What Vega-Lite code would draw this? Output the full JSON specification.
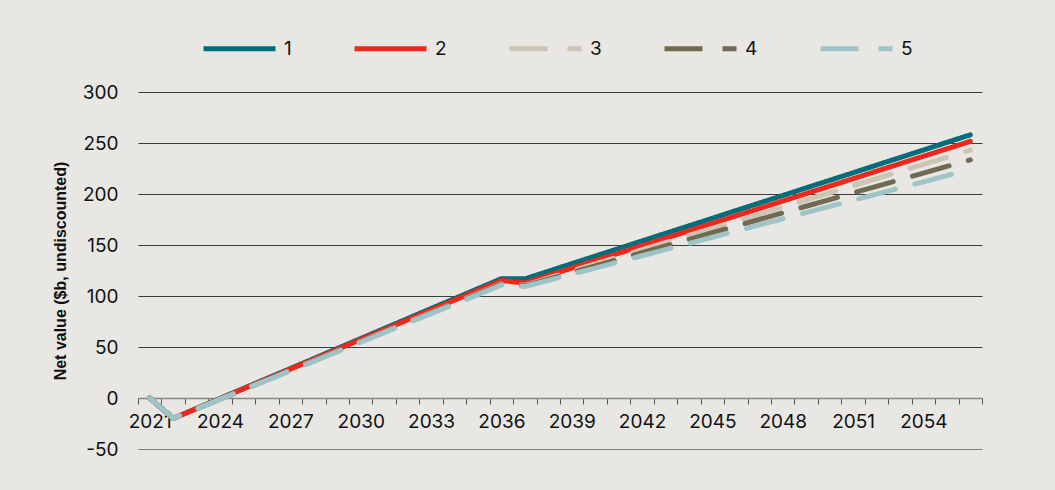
{
  "$schema": "https://vega.github.io/schema/vega-lite/v6.json",
  "autosize": {"type": "none"},
  "width": 844,
  "height": 357,
  "padding": {"left": 138, "top": 92, "right": 73, "bottom": 41},
  "background": "#e8e7e3",
  "config": {
    "view": {"stroke": null},
    "font": "Inter",
    "axis": {"labelFont": "Inter", "labelColor": "#111111", "labelFontSize": 19, "labelFontWeight": "normal"},
    "legend": {"labelFont": "Inter", "labelFontSize": 19, "labelColor": "#111111"}
  },
  "data": {"values": [
    {"series":"1","year":2021,"value":0},{"series":"1","year":2022,"value":-20},{"series":"1","year":2023,"value":-10.2},{"series":"1","year":2024,"value":-0.4},{"series":"1","year":2025,"value":9.4},{"series":"1","year":2026,"value":19.2},{"series":"1","year":2027,"value":28.9},{"series":"1","year":2028,"value":38.7},{"series":"1","year":2029,"value":48.5},{"series":"1","year":2030,"value":58.3},{"series":"1","year":2031,"value":68.1},{"series":"1","year":2032,"value":77.9},{"series":"1","year":2033,"value":87.7},{"series":"1","year":2034,"value":97.4},{"series":"1","year":2035,"value":107.2},{"series":"1","year":2036,"value":117.0},{"series":"1","year":2037,"value":116.8},{"series":"1","year":2038,"value":124.2},{"series":"1","year":2039,"value":131.7},{"series":"1","year":2040,"value":139.1},{"series":"1","year":2041,"value":146.5},{"series":"1","year":2042,"value":154.0},{"series":"1","year":2043,"value":161.4},{"series":"1","year":2044,"value":168.8},{"series":"1","year":2045,"value":176.2},{"series":"1","year":2046,"value":183.7},{"series":"1","year":2047,"value":191.1},{"series":"1","year":2048,"value":198.5},{"series":"1","year":2049,"value":206.0},{"series":"1","year":2050,"value":213.4},{"series":"1","year":2051,"value":220.8},{"series":"1","year":2052,"value":228.3},{"series":"1","year":2053,"value":235.7},{"series":"1","year":2054,"value":243.1},{"series":"1","year":2055,"value":250.6},{"series":"1","year":2056,"value":258.0},
    {"series":"2","year":2021,"value":0},{"series":"2","year":2022,"value":-20},{"series":"2","year":2023,"value":-10.3},{"series":"2","year":2024,"value":-0.7},{"series":"2","year":2025,"value":9.0},{"series":"2","year":2026,"value":18.6},{"series":"2","year":2027,"value":28.3},{"series":"2","year":2028,"value":38.0},{"series":"2","year":2029,"value":47.6},{"series":"2","year":2030,"value":57.3},{"series":"2","year":2031,"value":66.9},{"series":"2","year":2032,"value":76.6},{"series":"2","year":2033,"value":86.3},{"series":"2","year":2034,"value":95.9},{"series":"2","year":2035,"value":105.6},{"series":"2","year":2036,"value":115.2},{"series":"2","year":2037,"value":112.7},{"series":"2","year":2038,"value":120.0},{"series":"2","year":2039,"value":127.3},{"series":"2","year":2040,"value":134.6},{"series":"2","year":2041,"value":141.9},{"series":"2","year":2042,"value":149.3},{"series":"2","year":2043,"value":156.6},{"series":"2","year":2044,"value":163.9},{"series":"2","year":2045,"value":171.2},{"series":"2","year":2046,"value":178.5},{"series":"2","year":2047,"value":185.8},{"series":"2","year":2048,"value":193.1},{"series":"2","year":2049,"value":200.4},{"series":"2","year":2050,"value":207.7},{"series":"2","year":2051,"value":215.0},{"series":"2","year":2052,"value":222.4},{"series":"2","year":2053,"value":229.7},{"series":"2","year":2054,"value":237.0},{"series":"2","year":2055,"value":244.3},{"series":"2","year":2056,"value":251.6},
    {"series":"3","year":2021,"value":0},{"series":"3","year":2022,"value":-20},{"series":"3","year":2023,"value":-10.6},{"series":"3","year":2024,"value":-1.1},{"series":"3","year":2025,"value":8.3},{"series":"3","year":2026,"value":17.7},{"series":"3","year":2027,"value":27.2},{"series":"3","year":2028,"value":36.6},{"series":"3","year":2029,"value":46.0},{"series":"3","year":2030,"value":55.4},{"series":"3","year":2031,"value":64.9},{"series":"3","year":2032,"value":74.3},{"series":"3","year":2033,"value":83.7},{"series":"3","year":2034,"value":93.1},{"series":"3","year":2035,"value":102.6},{"series":"3","year":2036,"value":112.0},{"series":"3","year":2037,"value":110.5},{"series":"3","year":2038,"value":117.5},{"series":"3","year":2039,"value":124.4},{"series":"3","year":2040,"value":131.4},{"series":"3","year":2041,"value":138.4},{"series":"3","year":2042,"value":145.4},{"series":"3","year":2043,"value":152.3},{"series":"3","year":2044,"value":159.3},{"series":"3","year":2045,"value":166.3},{"series":"3","year":2046,"value":173.2},{"series":"3","year":2047,"value":180.2},{"series":"3","year":2048,"value":187.2},{"series":"3","year":2049,"value":194.1},{"series":"3","year":2050,"value":201.1},{"series":"3","year":2051,"value":208.1},{"series":"3","year":2052,"value":215.1},{"series":"3","year":2053,"value":222.0},{"series":"3","year":2054,"value":229.0},{"series":"3","year":2055,"value":236.0},{"series":"3","year":2056,"value":243.0},
    {"series":"4","year":2021,"value":0},{"series":"4","year":2022,"value":-20},{"series":"4","year":2023,"value":-10.6},{"series":"4","year":2024,"value":-1.2},{"series":"4","year":2025,"value":8.2},{"series":"4","year":2026,"value":17.6},{"series":"4","year":2027,"value":27.0},{"series":"4","year":2028,"value":36.4},{"series":"4","year":2029,"value":45.8},{"series":"4","year":2030,"value":55.2},{"series":"4","year":2031,"value":64.5},{"series":"4","year":2032,"value":73.9},{"series":"4","year":2033,"value":83.3},{"series":"4","year":2034,"value":92.7},{"series":"4","year":2035,"value":102.1},{"series":"4","year":2036,"value":111.5},{"series":"4","year":2037,"value":110.0},{"series":"4","year":2038,"value":116.5},{"series":"4","year":2039,"value":123.0},{"series":"4","year":2040,"value":129.5},{"series":"4","year":2041,"value":136.0},{"series":"4","year":2042,"value":142.5},{"series":"4","year":2043,"value":149.0},{"series":"4","year":2044,"value":155.5},{"series":"4","year":2045,"value":162.0},{"series":"4","year":2046,"value":168.5},{"series":"4","year":2047,"value":175.0},{"series":"4","year":2048,"value":181.5},{"series":"4","year":2049,"value":188.0},{"series":"4","year":2050,"value":194.5},{"series":"4","year":2051,"value":201.0},{"series":"4","year":2052,"value":207.5},{"series":"4","year":2053,"value":214.0},{"series":"4","year":2054,"value":220.5},{"series":"4","year":2055,"value":227.0},{"series":"4","year":2056,"value":233.5},
    {"series":"5","year":2021,"value":0},{"series":"5","year":2022,"value":-20},{"series":"5","year":2023,"value":-10.7},{"series":"5","year":2024,"value":-1.3},{"series":"5","year":2025,"value":8.0},{"series":"5","year":2026,"value":17.4},{"series":"5","year":2027,"value":26.7},{"series":"5","year":2028,"value":36.0},{"series":"5","year":2029,"value":45.4},{"series":"5","year":2030,"value":54.7},{"series":"5","year":2031,"value":64.1},{"series":"5","year":2032,"value":73.4},{"series":"5","year":2033,"value":82.7},{"series":"5","year":2034,"value":92.1},{"series":"5","year":2035,"value":101.4},{"series":"5","year":2036,"value":110.8},{"series":"5","year":2037,"value":109.3},{"series":"5","year":2038,"value":115.3},{"series":"5","year":2039,"value":121.4},{"series":"5","year":2040,"value":127.4},{"series":"5","year":2041,"value":133.5},{"series":"5","year":2042,"value":139.5},{"series":"5","year":2043,"value":145.5},{"series":"5","year":2044,"value":151.5},{"series":"5","year":2045,"value":157.6},{"series":"5","year":2046,"value":163.6},{"series":"5","year":2047,"value":169.7},{"series":"5","year":2048,"value":175.7},{"series":"5","year":2049,"value":181.8},{"series":"5","year":2050,"value":187.8},{"series":"5","year":2051,"value":193.8},{"series":"5","year":2052,"value":199.9},{"series":"5","year":2053,"value":205.9},{"series":"5","year":2054,"value":211.9},{"series":"5","year":2055,"value":218.0},{"series":"5","year":2056,"value":224.0}
  ]},
  "mark": {"type": "line", "strokeWidth": 5, "strokeCap": "round", "strokeJoin": "round", "clip": false},
  "encoding": {
    "x": {
      "field": "year", "type": "quantitative",
      "scale": {"domain": [2020.5, 2056.5], "nice": false, "zero": false},
      "axis": {
        "title": null, "offset": -51, "grid": false,
        "values": [2020.5,2021.5,2022.5,2023.5,2024.5,2025.5,2026.5,2027.5,2028.5,2029.5,2030.5,2031.5,2032.5,2033.5,2034.5,2035.5,2036.5,2037.5,2038.5,2039.5,2040.5,2041.5,2042.5,2043.5,2044.5,2045.5,2046.5,2047.5,2048.5,2049.5,2050.5,2051.5,2052.5,2053.5,2054.5,2055.5,2056.5],
        "labelExpr": "((datum.value + 0.5) % 3 == 2 && datum.value < 2056) ? format(datum.value + 0.5, 'd') : ''",
        "labelOffset": 11.72, "labelOverlap": false, "labelFlush": false, "labelBound": false,
        "labelPadding": 8,
        "domainColor": "#858585", "domainWidth": 1.5,
        "tickColor": "#555555", "tickSize": 6, "tickWidth": 1
      }
    },
    "y": {
      "field": "value", "type": "quantitative",
      "scale": {"domain": [-50, 300], "nice": false, "zero": false},
      "axis": {
        "title": "Net value ($b, undiscounted)",
        "titleFont": "Liberation Sans", "titleFontSize": 16, "titleFontWeight": "bold", "titleColor": "#111111",
        "titlePadding": 14,
        "values": [-50, 0, 50, 100, 150, 200, 250, 300],
        "labelExpr": "toString(datum.value)",
        "domain": false, "ticks": false, "tickSize": 0, "labelPadding": 20,
        "grid": true, "gridWidth": 1.2,
        "gridColor": {"condition": {"test": "datum.value == -50", "value": "#7a7a7a"}, "value": "#3c3c3c"}
      }
    },
    "color": {
      "field": "series", "type": "nominal",
      "scale": {"domain": ["1","2","3","4","5"], "range": ["#006e7a", "#f2261b", "#cbc5b4", "#716a53", "#9ec4c8"]},
      "legend": {
        "title": null, "orient": "none", "legendX": 63, "legendY": -82, "direction": "horizontal", "columns": 5,
        "symbolType": "stroke", "symbolSize": 5184, "symbolStrokeWidth": 5, "labelOffset": 6, "columnPadding": 52
      }
    },
    "strokeDash": {
      "field": "series", "type": "nominal",
      "scale": {"domain": ["1","2","3","4","5"], "range": [[1,0],[1,0],[38,20],[38,20],[38,20]]},
      "legend": {
        "title": null, "orient": "none", "legendX": 63, "legendY": -82, "direction": "horizontal", "columns": 5,
        "symbolType": "stroke", "symbolSize": 5184, "symbolStrokeWidth": 5, "labelOffset": 6, "columnPadding": 52
      }
    }
  }
}
